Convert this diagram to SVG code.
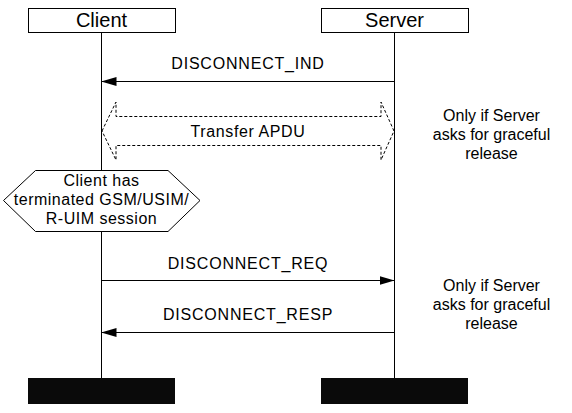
<svg xmlns="http://www.w3.org/2000/svg" width="572" height="413" viewBox="0 0 572 413">
<style>
text{font-family:"Liberation Sans",Arial,sans-serif;fill:#000}
.hdr{font-size:20px;text-anchor:middle}
.lbl{font-size:16px;text-anchor:middle;letter-spacing:0.8px}
.note{font-size:16px;text-anchor:middle}
.box{fill:#fff;stroke:#000;stroke-width:1}
.life{stroke:#000;stroke-width:1;fill:none}
.msg{stroke:#000;stroke-width:1;fill:none}
.bar{fill:#0a0a0a}
.dash{fill:#fff;stroke:#000;stroke-width:1;stroke-dasharray:3 2}
</style>
<defs>
<marker id="ah" viewBox="0 0 15 9" refX="15" refY="4.5" markerWidth="15" markerHeight="9" markerUnits="userSpaceOnUse" orient="auto">
<path d="M0,0 L15,4.5 L0,9 Z" fill="#000"/>
</marker>
</defs>
<rect width="572" height="413" fill="#fff"/>
<g id="lifelines">
<line class="life" x1="101.5" y1="32" x2="101.5" y2="378"/>
<line class="life" x1="394.5" y1="32" x2="394.5" y2="378"/>
</g>
<g id="client">
<rect class="box" x="28.5" y="8.5" width="147" height="24"/>
<text class="hdr" x="101.5" y="27">Client</text>
<rect class="bar" x="28" y="378" width="147" height="26"/>
</g>
<g id="server">
<rect class="box" x="321.5" y="8.5" width="147" height="24"/>
<text class="hdr" x="394.5" y="27">Server</text>
<rect class="bar" x="321" y="378" width="147" height="26"/>
</g>
<g id="connectors">
<line class="msg" x1="394.5" y1="81.5" x2="101.5" y2="81.5" marker-end="url(#ah)"/>
<text class="lbl" x="248" y="69">DISCONNECT_IND</text>
<polygon class="dash" points="102,131 116,102 116,116.5 381,116.5 381,102 394,131 381,160 381,145.5 116,145.5 116,160"/>
<text class="lbl" x="248" y="137" style="letter-spacing:0.6px">Transfer APDU</text>
<line class="msg" x1="101.5" y1="280.5" x2="394.5" y2="280.5" marker-end="url(#ah)"/>
<text class="lbl" x="248" y="269">DISCONNECT_REQ</text>
<line class="msg" x1="394.5" y1="332.5" x2="101.5" y2="332.5" marker-end="url(#ah)"/>
<text class="lbl" x="248" y="320">DISCONNECT_RESP</text>
</g>
<g id="state">
<polygon class="box" points="3.5,200.5 35.5,170.5 168,170.5 200,200.5 168,231.5 35.5,231.5"/>
<text class="note" x="101.5" y="186" style="letter-spacing:0.5px">Client has</text>
<text class="note" x="101.5" y="205" style="letter-spacing:0.5px">terminated GSM/USIM/</text>
<text class="note" x="101.5" y="224" style="letter-spacing:0.5px">R-UIM session</text>
</g>
<g id="note1">
<text class="note" x="491.5" y="121">Only if Server</text>
<text class="note" x="491.5" y="140">asks for graceful</text>
<text class="note" x="491.5" y="159">release</text>
</g>
<g id="note2">
<text class="note" x="491.5" y="291">Only if Server</text>
<text class="note" x="491.5" y="310">asks for graceful</text>
<text class="note" x="491.5" y="329">release</text>
</g>
</svg>
